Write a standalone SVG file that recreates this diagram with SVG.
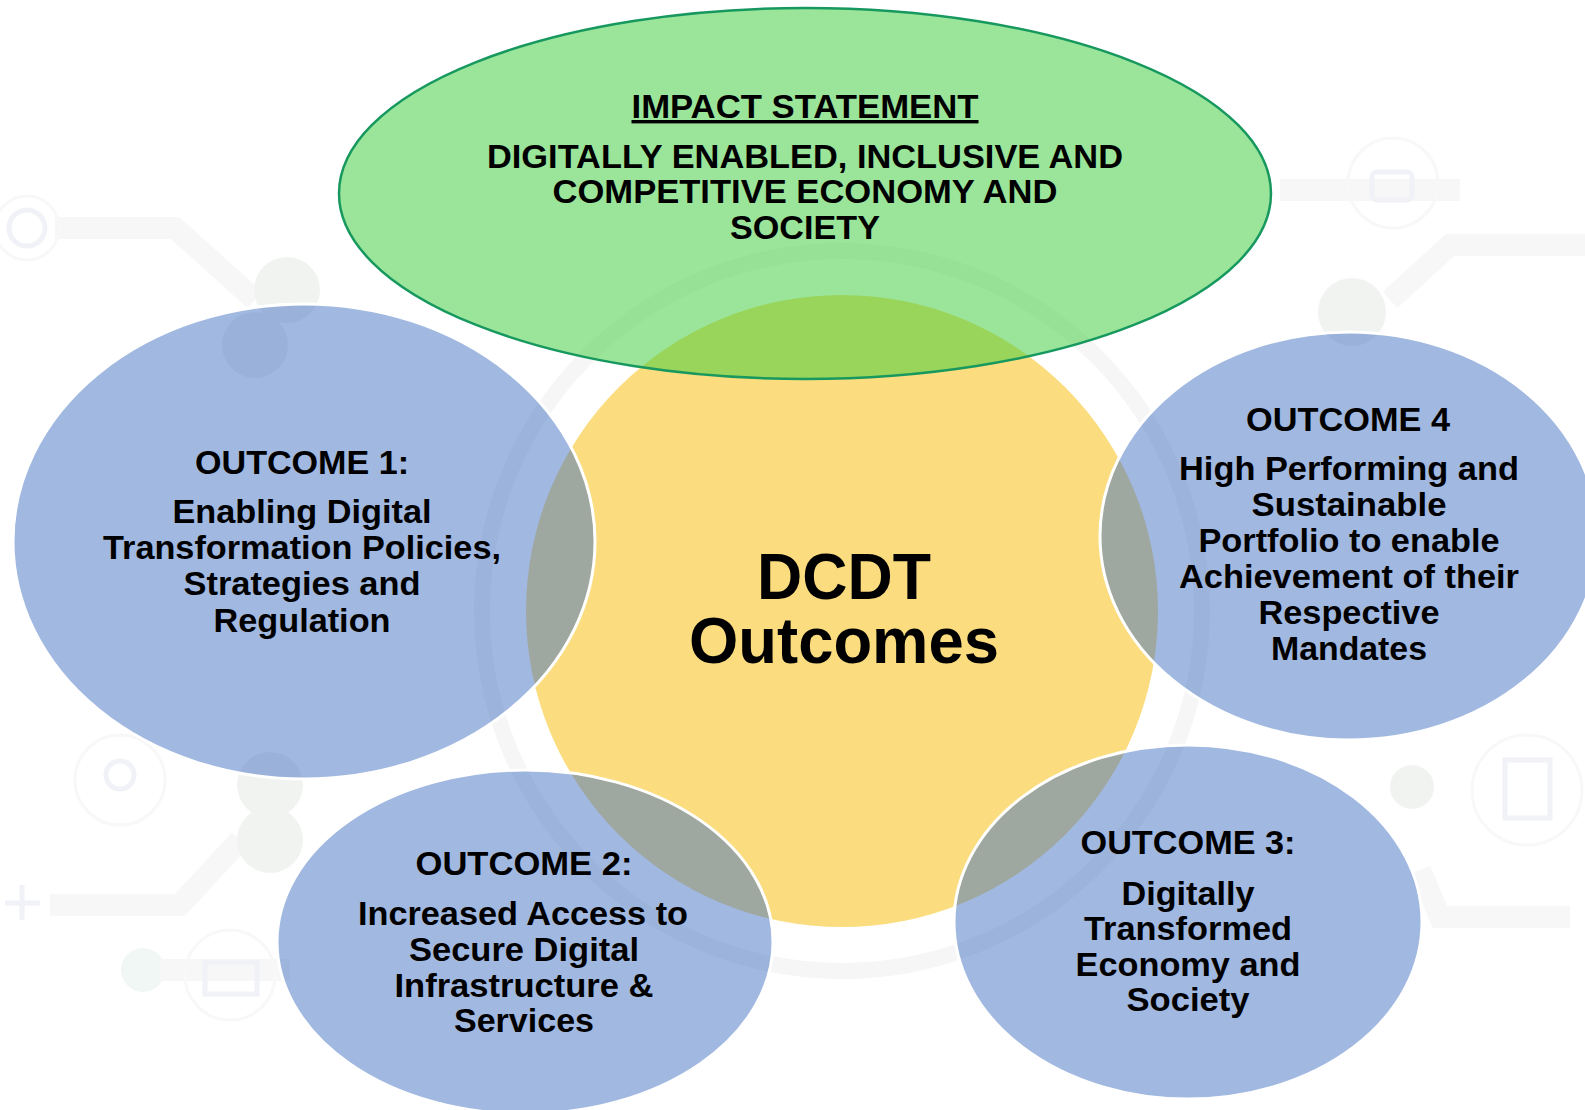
<svg xmlns="http://www.w3.org/2000/svg" width="1585" height="1110" viewBox="0 0 1585 1110">
  <style>
    .bgline { fill: none; stroke: #f6f7f6; stroke-width: 22; stroke-linejoin: miter; }
    .bgdot { fill: #f0f3f0; }
    .bgicon { fill: none; stroke: #f0f2f8; stroke-width: 5; }
    .bgring { fill: none; stroke: #f8f8f8; stroke-width: 3; }
    .outcome { fill: #4472C4; fill-opacity: 0.5; stroke: #ffffff; stroke-width: 3; }
    .t { font-family: "Liberation Sans", Arial, sans-serif; font-weight: bold; fill: #000000; text-anchor: middle; font-size: 34px; }
    .big { font-size: 64px; }
  </style>
  <rect x="0" y="0" width="1585" height="1110" fill="#ffffff"/>

  <g id="background">
    <polyline class="bgline" points="55,228 175,228 255,300"/>
    <circle class="bgicon" cx="27" cy="228" r="18"/>
    <circle class="bgring" cx="27" cy="228" r="32"/>
    <circle class="bgdot" cx="287" cy="290" r="33"/>
    <circle class="bgdot" cx="255" cy="345" r="33"/>
    <polyline class="bgline" points="1280,190 1460,190"/>
    <rect class="bgicon" x="1372" y="172" width="40" height="28" rx="5"/>
    <circle class="bgring" cx="1393" cy="183" r="45"/>
    <circle class="bgdot" cx="1352" cy="312" r="34"/>
    <polyline class="bgline" points="1390,300 1450,245 1585,245"/>
    <polyline class="bgline" points="50,905 180,905 240,840"/>
    <circle class="bgicon" cx="120" cy="775" r="14"/>
    <circle class="bgring" cx="120" cy="780" r="45"/>
    <path class="bgicon" d="M22,885 V920 M5,903 H40"/>
    <circle class="bgdot" cx="270" cy="785" r="33"/>
    <circle class="bgdot" cx="270" cy="840" r="33"/>
    <circle cx="143" cy="970" r="22" fill="#f0f7f4"/>
    <polyline class="bgline" points="160,970 290,970"/>
    <rect class="bgicon" x="205" y="962" width="52" height="32"/>
    <circle class="bgring" cx="230" cy="975" r="45"/>
    <circle class="bgdot" cx="1412" cy="787" r="22"/>
    <polyline class="bgline" points="1420,870 1440,917 1570,917"/>
    <rect class="bgicon" x="1505" y="760" width="45" height="58"/>
    <circle class="bgring" cx="1527" cy="790" r="55"/>
    <circle cx="842" cy="611" r="360" fill="none" stroke="#f5f6f5" stroke-width="16"/>
  </g>

  <g id="center">
    <circle cx="842" cy="611" r="316" fill="#FBDC7A" fill-opacity="0.96"/>
    <text class="t big" x="844" y="599" textLength="174" lengthAdjust="spacingAndGlyphs">DCDT</text>
    <text class="t big" x="844" y="663" textLength="310" lengthAdjust="spacingAndGlyphs">Outcomes</text>
  </g>

  <g id="impact">
    <ellipse cx="805" cy="193.5" rx="466" ry="185.5" fill="#37CB37" fill-opacity="0.5" stroke="#17985E" stroke-width="2.5"/>
    <text class="t" x="805" y="118" textLength="347" lengthAdjust="spacingAndGlyphs" text-decoration="underline">IMPACT STATEMENT</text>
    <text class="t" x="805" y="168" textLength="636" lengthAdjust="spacingAndGlyphs">DIGITALLY ENABLED, INCLUSIVE AND</text>
    <text class="t" x="805" y="203" textLength="505" lengthAdjust="spacingAndGlyphs">COMPETITIVE ECONOMY AND</text>
    <text class="t" x="805" y="239" textLength="150" lengthAdjust="spacingAndGlyphs">SOCIETY</text>
  </g>

  <g id="outcome1">
    <ellipse class="outcome" cx="304" cy="541.5" rx="291" ry="237.5"/>
    <text class="t" x="302" y="474" textLength="214" lengthAdjust="spacingAndGlyphs">OUTCOME 1:</text>
    <text class="t" x="302" y="523" textLength="259" lengthAdjust="spacingAndGlyphs">Enabling Digital</text>
    <text class="t" x="302" y="559" textLength="398" lengthAdjust="spacingAndGlyphs">Transformation Policies,</text>
    <text class="t" x="302" y="595" textLength="237" lengthAdjust="spacingAndGlyphs">Strategies and</text>
    <text class="t" x="302" y="632" textLength="177" lengthAdjust="spacingAndGlyphs">Regulation</text>
  </g>

  <g id="outcome2">
    <ellipse class="outcome" cx="525" cy="942" rx="248" ry="172"/>
    <text class="t" x="524" y="875" textLength="217" lengthAdjust="spacingAndGlyphs">OUTCOME 2:</text>
    <text class="t" x="523" y="925" textLength="330" lengthAdjust="spacingAndGlyphs">Increased Access to</text>
    <text class="t" x="524" y="961" textLength="230" lengthAdjust="spacingAndGlyphs">Secure Digital</text>
    <text class="t" x="524" y="997" textLength="259" lengthAdjust="spacingAndGlyphs">Infrastructure &amp;</text>
    <text class="t" x="524" y="1032" textLength="140" lengthAdjust="spacingAndGlyphs">Services</text>
  </g>

  <g id="outcome3">
    <ellipse class="outcome" cx="1188" cy="922" rx="234" ry="177"/>
    <text class="t" x="1188" y="854" textLength="215" lengthAdjust="spacingAndGlyphs">OUTCOME 3:</text>
    <text class="t" x="1188" y="905" textLength="133" lengthAdjust="spacingAndGlyphs">Digitally</text>
    <text class="t" x="1188" y="940" textLength="208" lengthAdjust="spacingAndGlyphs">Transformed</text>
    <text class="t" x="1188" y="976" textLength="225" lengthAdjust="spacingAndGlyphs">Economy and</text>
    <text class="t" x="1188" y="1011" textLength="123" lengthAdjust="spacingAndGlyphs">Society</text>
  </g>

  <g id="outcome4">
    <ellipse class="outcome" cx="1349" cy="536" rx="249" ry="204"/>
    <text class="t" x="1348" y="431" textLength="204" lengthAdjust="spacingAndGlyphs">OUTCOME 4</text>
    <text class="t" x="1349" y="480" textLength="340" lengthAdjust="spacingAndGlyphs">High Performing and</text>
    <text class="t" x="1349" y="516" textLength="195" lengthAdjust="spacingAndGlyphs">Sustainable</text>
    <text class="t" x="1349" y="552" textLength="301" lengthAdjust="spacingAndGlyphs">Portfolio to enable</text>
    <text class="t" x="1349" y="588" textLength="340" lengthAdjust="spacingAndGlyphs">Achievement of their</text>
    <text class="t" x="1349" y="624" textLength="181" lengthAdjust="spacingAndGlyphs">Respective</text>
    <text class="t" x="1349" y="660" textLength="156" lengthAdjust="spacingAndGlyphs">Mandates</text>
  </g>

  <g id="connectors"></g>
</svg>
